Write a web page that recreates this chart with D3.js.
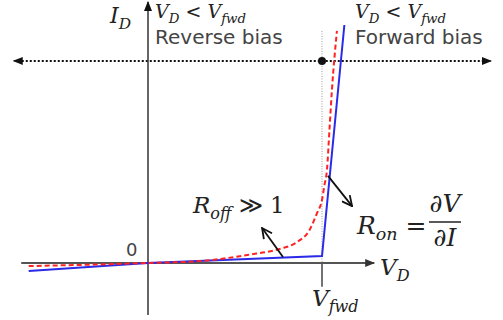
<!DOCTYPE html>
<html>
<head>
<meta charset="utf-8">
<script src="https://cdn.jsdelivr.net/npm/d3@7"></script>
<style>
  body { margin: 0; background: #fff; }
  svg { display: block; }
  .math { font-family: "DejaVu Serif", serif; font-style: italic; fill: #222; }
  .label { font-family: "DejaVu Sans", sans-serif; fill: #444; }
</style>
</head>
<body>
<svg></svg>
<script>
var width = 503;
var height = 320;

// diode voltage (V) and current (mA)
var vFwd = 0.7;
var realV = [-0.48, 0, 0.21, 0.40, 0.53, 0.60, 0.65, 0.68, 0.70, 0.71, 0.72, 0.73, 0.74, 0.76];
var realI = [-0.13, 0, 0.08, 0.34, 0.59, 0.88, 1.39, 2.10, 2.65, 3.28, 3.91, 5.59, 7.27, 9.75];
var modelV = [-0.48, 0, 0.70, 0.79];
var modelI = [-0.34, 0, 0.29, 10.0];

var xAxisRange = [-0.51, 0.91];
var yAxisRange = [-2.18, 10.97];
var biasLineI = 8.49;
var biasLineRange = [-0.54, 1.38];

var svg = d3.select('svg')
  .attr('width', width)
  .attr('height', height);

var xScale = d3.scaleLinear()
  .domain([0, vFwd])
  .range([148, 322]);

var yScale = d3.scaleLinear()
  .domain([0, 10])
  .range([263, 25]);

var defs = svg.append('defs');

function solidHead(id, color, size) {
  defs.append('marker')
    .attr('id', id)
    .attr('viewBox', '0 -5 10 10')
    .attr('refX', 9)
    .attr('refY', 0)
    .attr('markerUnits', 'userSpaceOnUse')
    .attr('markerWidth', size)
    .attr('markerHeight', size)
    .attr('orient', 'auto-start-reverse')
    .append('path')
      .attr('d', 'M0,-4L10,0L0,4Z')
      .attr('fill', color);
}
solidHead('head', '#111', 10);
solidHead('headGray', '#333', 10);

defs.append('marker')
  .attr('id', 'open')
  .attr('viewBox', '0 -6 12 12')
  .attr('refX', 11)
  .attr('refY', 0)
  .attr('markerUnits', 'userSpaceOnUse')
  .attr('markerWidth', 12)
  .attr('markerHeight', 12)
  .attr('orient', 'auto')
  .append('path')
    .attr('d', 'M1,-5L11,0L1,5')
    .attr('fill', 'none')
    .attr('stroke', '#111')
    .attr('stroke-width', 1.8);

// dotted bias line
svg.append('line')
  .attr('x1', xScale(biasLineRange[0]) + 8)
  .attr('x2', xScale(biasLineRange[1]) - 8)
  .attr('y1', yScale(biasLineI))
  .attr('y2', yScale(biasLineI))
  .attr('stroke', '#111')
  .attr('stroke-width', 2)
  .attr('stroke-dasharray', '2,2');
[biasLineRange[0], biasLineRange[1]].forEach(function(end, i) {
  var dir = i === 0 ? 1 : -1;
  svg.append('line')
    .attr('x1', xScale(end) + dir * 9)
    .attr('x2', xScale(end))
    .attr('y1', yScale(biasLineI))
    .attr('y2', yScale(biasLineI))
    .attr('stroke', '#111')
    .attr('stroke-width', 1)
    .attr('marker-end', 'url(#head)');
});

// Vfwd guide and tick
svg.append('line')
  .attr('x1', xScale(vFwd)).attr('x2', xScale(vFwd))
  .attr('y1', yScale(realI[realI.length - 1])).attr('y2', yScale(0))
  .attr('stroke', '#999')
  .attr('stroke-width', 1)
  .attr('stroke-dasharray', '1,1.5');
svg.append('line')
  .attr('x1', xScale(vFwd)).attr('x2', xScale(vFwd))
  .attr('y1', yScale(0)).attr('y2', yScale(-1.0))
  .attr('stroke', '#444')
  .attr('stroke-width', 1.5);

// axes
svg.append('line')
  .attr('x1', xScale(xAxisRange[0])).attr('x2', xScale(xAxisRange[1]))
  .attr('y1', yScale(0)).attr('y2', yScale(0))
  .attr('stroke', '#555')
  .attr('stroke-width', 2)
  .attr('marker-end', 'url(#headGray)');
svg.append('line')
  .attr('x1', xScale(0)).attr('x2', xScale(0))
  .attr('y1', yScale(yAxisRange[0])).attr('y2', yScale(yAxisRange[1]))
  .attr('stroke', '#333')
  .attr('stroke-width', 1.5)
  .attr('marker-end', 'url(#head)');

// curves
var line = d3.line()
  .x(d => xScale(d[0]))
  .y(d => yScale(d[1]));

svg.append('path')
  .datum(modelV.map((v, i) => [v, modelI[i]]))
  .attr('d', line)
  .attr('fill', 'none')
  .attr('stroke', '#2a2ae8')
  .attr('stroke-width', 2);

svg.append('path')
  .datum(realV.map((v, i) => [v, realI[i]]))
  .attr('d', line.curve(d3.curveMonotoneX))
  .attr('fill', 'none')
  .attr('stroke', '#f22')
  .attr('stroke-width', 2)
  .attr('stroke-dasharray', '5,3');

// operating point
svg.append('circle')
  .attr('cx', xScale(vFwd))
  .attr('cy', yScale(biasLineI))
  .attr('r', 4)
  .attr('fill', '#111');

// annotation arrows
var arrows = [
  [[0.543, 0.25], [0.459, 1.47]],
  [[0.724, 3.66], [0.821, 2.39]]
];
arrows.forEach(function(a) {
  svg.append('line')
    .attr('x1', xScale(a[0][0])).attr('y1', yScale(a[0][1]))
    .attr('x2', xScale(a[1][0])).attr('y2', yScale(a[1][1]))
    .attr('stroke', '#111')
    .attr('stroke-width', 1.8)
    .attr('marker-end', 'url(#open)');
});

// text helpers: parts are [text, kind]
function mathText(x, y, size, parts) {
  var t = svg.append('text')
    .attr('class', 'math')
    .attr('x', x)
    .attr('y', y)
    .style('font-size', size + 'px');
  var shifted = false;
  parts.forEach(function(p) {
    var s = t.append('tspan').text(p[0]);
    if (p[1] === 'sub') {
      s.style('font-size', (size * 0.7) + 'px').attr('dy', size * 0.25);
      shifted = true;
    } else {
      if (shifted) { s.attr('dy', -size * 0.25); shifted = false; }
      if (p[1] === 'plain') s.style('font-style', 'normal');
    }
  });
  return t;
}

mathText(110, 23, 22, [['I'], ['D', 'sub']]);

mathText(155, 18, 19, [['V'], ['D', 'sub'], [' < ', 'plain'], ['V'], ['fwd', 'sub']]);
mathText(355, 18, 19, [['V'], ['D', 'sub'], [' < ', 'plain'], ['V'], ['fwd', 'sub']]);

svg.append('text')
  .attr('class', 'label')
  .attr('x', 155).attr('y', 44)
  .style('font-size', '20px')
  .text('Reverse bias');
svg.append('text')
  .attr('class', 'label')
  .attr('x', 355).attr('y', 44)
  .style('font-size', '20px')
  .text('Forward bias');

svg.append('text')
  .attr('class', 'label')
  .attr('x', 126).attr('y', 256)
  .style('font-size', '18px')
  .text('0');

mathText(380, 275, 23, [['V'], ['D', 'sub']]);
mathText(312, 306, 23, [['V'], ['fwd', 'sub']]);

mathText(193, 213, 23, [['R'], ['off', 'sub'], [' \u226B 1', 'plain']]);
mathText(357, 234, 25, [['R'], ['on', 'sub'], [' =', 'plain']]);

// dV/dI fraction
svg.append('text')
  .attr('class', 'math')
  .attr('x', 445).attr('y', 212)
  .attr('text-anchor', 'middle')
  .style('font-size', '25px')
  .text('\u2202V');
svg.append('line')
  .attr('x1', 429).attr('x2', 461)
  .attr('y1', 222).attr('y2', 222)
  .attr('stroke', '#222')
  .attr('stroke-width', 1.5);
svg.append('text')
  .attr('class', 'math')
  .attr('x', 445).attr('y', 246)
  .attr('text-anchor', 'middle')
  .style('font-size', '25px')
  .text('\u2202I');
</script>
</body>
</html>
